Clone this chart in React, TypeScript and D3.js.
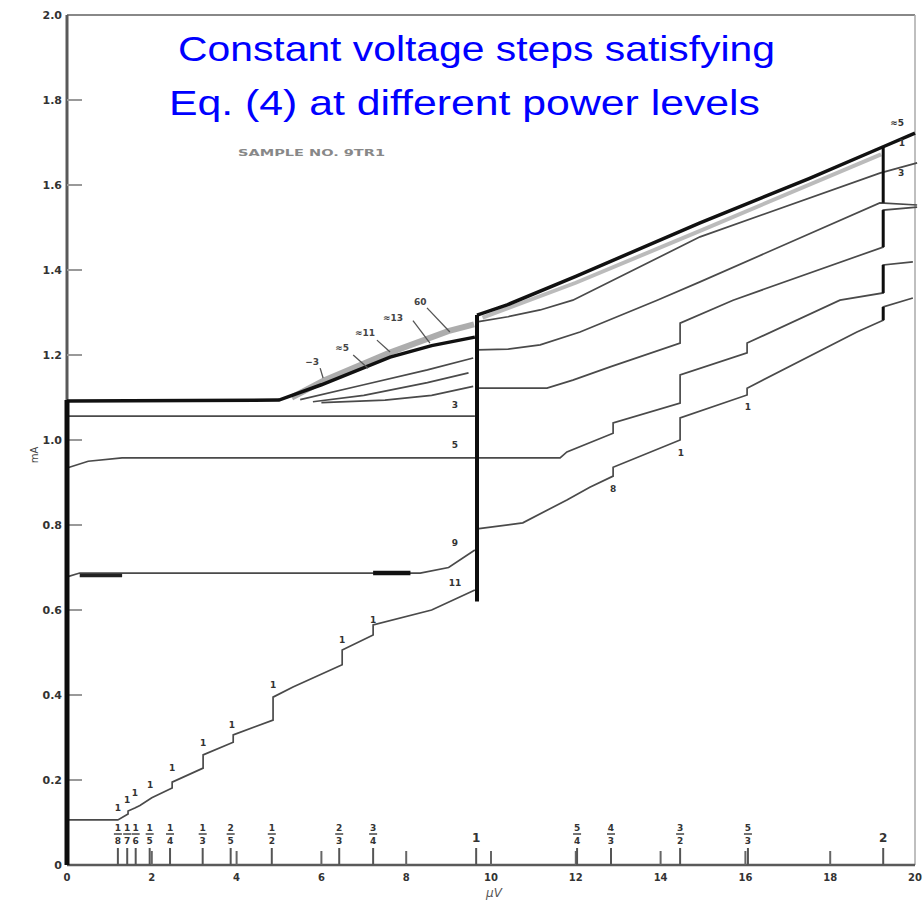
import React from 'react';
import * as d3 from 'd3';

type P = [number, number];

// axis ticks
const xTicks = [0, 2, 4, 6, 8, 10, 12, 14, 16, 18, 20];
const xTickLabels = ['0', '2', '4', '6', '8', '10', '12', '14', '16', '18', '20'];
const yTicks = [0, 0.2, 0.4, 0.6, 0.8, 1.0, 1.2, 1.4, 1.6, 1.8, 2.0];
const yTickLabels = ['0', '0.2', '0.4', '0.6', '0.8', '1.0', '1.2', '1.4', '1.6', '1.8', '2.0'];

// thick envelope (below step 1) and above step 1
const envelope: P[] = [[0, 1.092], [5.0, 1.094], [6.0, 1.13], [7.62, 1.195], [8.6, 1.222], [9.62, 1.242]];
const topRight: P[] = [[9.67, 1.294], [10.0, 1.305], [10.38, 1.318], [12, 1.385], [14.93, 1.511], [17.5, 1.615], [19.25, 1.69], [20, 1.722]];
// gray hatched bands along the envelope
const bandLeft: P[] = [[5.3, 1.1], [6.06, 1.14], [7.6, 1.205], [8.99, 1.256], [9.6, 1.272]];
const bandRight: P[] = [[9.8, 1.288], [12, 1.37], [15, 1.495], [19.2, 1.672]];

// fan curves diverging from envelope
const fanB: P[] = [[5.5, 1.095], [7.0, 1.13], [8.5, 1.165], [9.58, 1.193]];
const fanC: P[] = [[5.8, 1.09], [7.0, 1.105], [8.5, 1.135], [9.47, 1.158]];
const fanD: P[] = [[6.0, 1.088], [7.5, 1.094], [8.6, 1.105], [9.58, 1.126]];

// constant-power curves
const curve3: P[] = [[0, 1.056], [9.62, 1.056]];
const curve5: P[] = [[0, 0.934], [0.5, 0.95], [1.3, 0.958], [11.63, 0.958], [11.79, 0.972], [12.88, 1.016], [12.88, 1.04], [14.46, 1.087], [14.46, 1.153], [16.04, 1.205], [16.04, 1.228], [18.23, 1.329], [19.25, 1.346], [19.25, 1.412], [19.95, 1.419]];
const curve9: P[] = [[0, 0.678], [0.3, 0.687], [8.33, 0.687], [9.0, 0.7], [9.62, 0.741]];
const curve9Thick: P[] = [[7.22, 0.687], [8.1, 0.687]];
const curve9Thick2: P[] = [[0.3, 0.681], [1.3, 0.681]];
const curve11: P[] = [[0, 0.106], [1.2, 0.106], [1.44, 0.12], [1.44, 0.127], [1.6, 0.134], [1.72, 0.14], [2.0, 0.158], [2.48, 0.181], [2.48, 0.195], [3.21, 0.228], [3.21, 0.259], [3.92, 0.289], [3.92, 0.306], [4.86, 0.341], [4.86, 0.395], [5.33, 0.419], [6.49, 0.471], [6.49, 0.506], [7.22, 0.541], [7.22, 0.565], [8.6, 0.6], [9.62, 0.647]];

const curveA: P[] = [[9.67, 1.278], [10.4, 1.29], [11.16, 1.306], [11.93, 1.329], [14.93, 1.478], [19.17, 1.628], [20.05, 1.652]];
const curveB: P[] = [[9.67, 1.212], [10.4, 1.214], [11.16, 1.224], [12.1, 1.254], [13.92, 1.329], [14.93, 1.372], [19.17, 1.558], [20.05, 1.553]];
const curveC: P[] = [[9.67, 1.122], [11.32, 1.122], [11.93, 1.141], [12.81, 1.172], [14.46, 1.228], [14.46, 1.275], [15.71, 1.329], [19.25, 1.454], [19.25, 1.541], [20.05, 1.548]];
const curveE: P[] = [[9.67, 0.791], [10.75, 0.805], [11.79, 0.859], [12.33, 0.889], [12.88, 0.915], [12.88, 0.936], [14.46, 1.0], [14.46, 1.052], [16.04, 1.106], [16.04, 1.122], [18.63, 1.254], [19.25, 1.282], [19.25, 1.313], [19.95, 1.334]];

// thick vertical (constant-voltage) segments: [V, I from, I to]
const verticals: [number, number, number, number][] = [
  [0, 0, 1.094, 5],
  [9.67, 0.62, 1.294, 4],
  [19.25, 1.558, 1.689, 3],
  [19.25, 1.454, 1.541, 3],
  [19.25, 1.346, 1.412, 3],
  [19.25, 1.282, 1.313, 3],
];

// step voltage markers on the axis
const stepV = [1.2, 1.42, 1.62, 1.95, 2.43, 3.2, 3.86, 4.83, 6.42, 7.22, 9.65, 12.03, 12.83, 14.46, 16.06, 19.25];
const stepNum = ['1', '1', '1', '1', '1', '1', '2', '1', '2', '3', '1', '5', '4', '3', '5', '2'];
const stepDen = ['8', '7', '6', '5', '4', '3', '5', '2', '3', '4', '', '4', '3', '2', '3', ''];

// "1" labels on the stair-step curve
const stairLabelV = [1.2, 1.42, 1.6, 1.96, 2.48, 3.21, 3.89, 4.86, 6.49, 7.22];
const stairLabelI = [0.134, 0.153, 0.169, 0.188, 0.228, 0.287, 0.329, 0.424, 0.529, 0.576];

// curve labels [text, V, I]
const curveLabels: [string, number, number][] = [
  ['3', 9.15, 1.082],
  ['5', 9.15, 0.988],
  ['9', 9.15, 0.758],
  ['11', 9.15, 0.664],
  ['8', 12.88, 0.885],
  ['1', 14.48, 0.969],
  ['1', 16.06, 1.078],
  ['≈5', 19.58, 1.746],
  ['1', 19.69, 1.699],
  ['3', 19.67, 1.628],
];

// power-level labels with leader lines
const fanLabels: [string, number, number][] = [
  ['60', 8.33, 1.325],
  ['≈13', 7.69, 1.287],
  ['≈11', 7.03, 1.252],
  ['≈5', 6.49, 1.216],
  ['−3', 5.78, 1.184],
];
const fanLeaders: [number, number, number, number][] = [
  [8.49, 1.311, 9.03, 1.254],
  [8.16, 1.281, 8.56, 1.228],
  [7.31, 1.235, 7.62, 1.207],
  [6.75, 1.2, 7.1, 1.169],
  [5.97, 1.169, 6.04, 1.146],
];

const W = 924;
const H = 904;

export default function App() {
  const x = d3.scaleLinear().domain([0, 20]).range([67, 915]);
  const y = d3.scaleLinear().domain([0, 2]).range([865, 15]);
  const line = d3.line<P>().x((d) => x(d[0])).y((d) => y(d[1]));

  const thin = [fanB, fanC, fanD, curve3, curve5, curve9, curve11, curveA, curveB, curveC, curveE];
  const axisColor = '#5a5a5a';
  const textFont = 'DejaVu Sans, sans-serif';

  return (
    <svg width={W} height={H} style={{ position: 'absolute', left: 0, top: 0, background: '#fff' }}>
      <rect x={0} y={0} width={W} height={H} fill="#fff" />
      {/* frame */}
      <line x1={x(0)} x2={x(20)} y1={y(2)} y2={y(2)} stroke="#888" strokeWidth={2} />
      <line x1={x(20)} x2={x(20)} y1={y(2)} y2={y(0)} stroke="#aaa" strokeWidth={1.5} />
      <line x1={x(0)} x2={x(20)} y1={y(0)} y2={y(0)} stroke={axisColor} strokeWidth={2.5} />
      <line x1={x(0)} x2={x(0)} y1={y(2)} y2={y(0)} stroke={axisColor} strokeWidth={3} />

      {/* y ticks */}
      {yTicks.map((t, i) => (
        <g key={'yt' + i}>
          {t > 0 && t < 2 && <line x1={x(0)} x2={x(0) + 15} y1={y(t)} y2={y(t)} stroke="#999" strokeWidth={2} />}
          <text x={62} y={y(t)} dy="0.35em" textAnchor="end" fontFamily={textFont} fontSize={11} fontWeight="bold" fill="#333">
            {yTickLabels[i]}
          </text>
        </g>
      ))}
      {/* x ticks */}
      {xTicks.map((t, i) => (
        <g key={'xt' + i}>
          {t > 0 && t < 20 && <line x1={x(t)} x2={x(t)} y1={y(0)} y2={y(0) - 14} stroke="#666" strokeWidth={2} />}
          <text x={x(t)} y={881} textAnchor="middle" fontFamily={textFont} fontSize={10} fontWeight="bold" fill="#333">
            {xTickLabels[i]}
          </text>
        </g>
      ))}

      {/* step markers */}
      {stepV.map((v, i) => (
        <g key={'st' + i} fill="#333" fontFamily={textFont} fontSize={9} fontWeight="bold" textAnchor="middle">
          <line x1={x(v)} x2={x(v)} y1={y(0)} y2={y(0) - 17} stroke="#555" strokeWidth={2} />
          {stepDen[i] ? (
            <>
              <text x={x(v)} y={831}>{stepNum[i]}</text>
              <line x1={x(v) - 4} x2={x(v) + 4} y1={834} y2={834} stroke="#444" strokeWidth={1.5} />
              <text x={x(v)} y={844}>{stepDen[i]}</text>
            </>
          ) : (
            <text x={x(v)} y={842} fontSize={12}>{stepNum[i]}</text>
          )}
        </g>
      ))}

      {/* gray bands */}
      <path d={line(bandLeft) || ''} fill="none" stroke="#999" strokeWidth={6} strokeOpacity={0.8} />
      <path d={line(bandRight) || ''} fill="none" stroke="#aaa" strokeWidth={4} strokeOpacity={0.8} />

      {/* thin curves */}
      {thin.map((c, i) => (
        <path key={'c' + i} d={line(c) || ''} fill="none" stroke="#4a4a4a" strokeWidth={1.7} />
      ))}
      <path d={line(curve9Thick) || ''} fill="none" stroke="#111" strokeWidth={4.5} />
      <path d={line(curve9Thick2) || ''} fill="none" stroke="#222" strokeWidth={3.5} />

      {/* thick envelope */}
      <path d={line(envelope) || ''} fill="none" stroke="#111" strokeWidth={3.5} />
      <path d={line(topRight) || ''} fill="none" stroke="#111" strokeWidth={3.5} />

      {/* verticals */}
      {verticals.map((v, i) => (
        <line key={'v' + i} x1={x(v[0])} x2={x(v[0])} y1={y(v[1])} y2={y(v[2])} stroke="#0d0d0d" strokeWidth={v[3]} />
      ))}

      {/* stair labels */}
      {stairLabelV.map((v, i) => (
        <text key={'sl' + i} x={x(v)} y={y(stairLabelI[i])} dy="0.35em" textAnchor="middle" fontFamily={textFont} fontSize={9} fontWeight="bold" fill="#333">
          1
        </text>
      ))}

      {/* curve labels */}
      {curveLabels.map((l, i) => (
        <text key={'cl' + i} x={x(l[1])} y={y(l[2])} dy="0.35em" textAnchor="middle" fontFamily={textFont} fontSize={9} fontWeight="bold" fill="#333">
          {l[0]}
        </text>
      ))}

      {/* fan labels and leaders */}
      {fanLeaders.map((l, i) => (
        <line key={'fl' + i} x1={x(l[0])} y1={y(l[1])} x2={x(l[2])} y2={y(l[3])} stroke="#555" strokeWidth={1.3} />
      ))}
      {fanLabels.map((l, i) => (
        <text key={'ft' + i} x={x(l[1])} y={y(l[2])} dy="0.35em" textAnchor="middle" fontFamily={textFont} fontSize={9} fontWeight="bold" fill="#444">
          {l[0]}
        </text>
      ))}

      {/* annotations */}
      <text x={238} y={156} textLength={147} lengthAdjust="spacingAndGlyphs" fontFamily={textFont} fontSize={9} fontWeight="bold" fill="#888">
        SAMPLE NO. 9TR1
      </text>
      <text x={0} y={0} transform="translate(38,455) rotate(-90)" textAnchor="middle" fontFamily={textFont} fontSize={10} fill="#444">
        mA
      </text>
      <text x={494} y={897} textAnchor="middle" fontFamily={textFont} fontSize={12} fontStyle="italic" fill="#555">
        μV
      </text>

      {/* title */}
      <text x={178} y={61} textLength={597} lengthAdjust="spacingAndGlyphs" fontFamily="Liberation Sans, Arial, sans-serif" fontSize={35} fill="#0000ff">
        Constant voltage steps satisfying
      </text>
      <text x={169} y={115} textLength={591} lengthAdjust="spacingAndGlyphs" fontFamily="Liberation Sans, Arial, sans-serif" fontSize={35} fill="#0000ff">
        Eq. (4) at different power levels
      </text>
    </svg>
  );
}
